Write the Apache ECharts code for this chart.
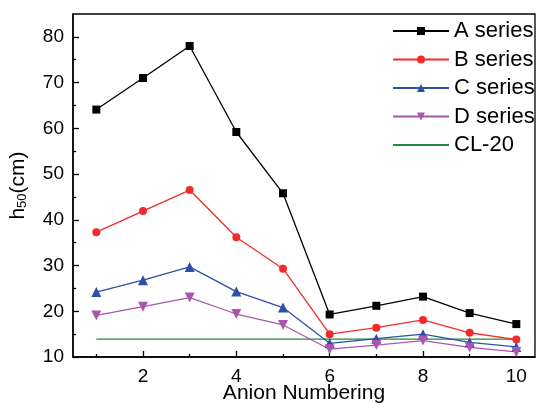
<!DOCTYPE html>
<html>
<head>
<meta charset="utf-8">
<script src="https://cdn.jsdelivr.net/npm/echarts@6/dist/echarts.min.js"></script>
<style>
html,body{margin:0;padding:0;background:#fff;}
#c{width:539px;height:408px;}
</style>
</head>
<body>
<div id="c"></div>
<script>
var anionNumbers = [1, 2, 3, 4, 5, 6, 7, 8, 9, 10];
var seriesA = [64.1, 71.0, 78.0, 59.2, 45.8, 19.3, 21.2, 23.2, 19.6, 17.2];
var seriesB = [37.3, 41.9, 46.5, 36.2, 29.3, 15.0, 16.4, 18.1, 15.3, 13.8];
var seriesC = [24.2, 26.8, 29.7, 24.3, 20.8, 13.0, 14.0, 15.0, 13.2, 12.2];
var seriesD = [19.1, 21.0, 23.0, 19.4, 17.0, 11.7, 12.6, 13.6, 12.1, 11.1];
var cl20 = [13.9, 13.9, 13.9, 13.9, 13.9, 13.9, 13.9, 13.9, 13.9, 13.9];
var xMajorTicks = [2, 4, 6, 8, 10];
var xMinorTicks = [1, 3, 5, 7, 9];
var yMajorTicks = [10, 20, 30, 40, 50, 60, 70, 80];
var yMinorTicks = [15, 25, 35, 45, 55, 65, 75];

function pairs(vals) {
  return anionNumbers.map(function (x, i) { return [x, vals[i]]; });
}

var FONT = '"Liberation Sans", Arial, sans-serif';
var chart = echarts.init(document.getElementById('c'), null, {renderer: 'canvas'});

function lineSeries(name, vals, color, symbol, size) {
  return {
    name: name, type: 'line', data: pairs(vals),
    symbol: symbol, symbolSize: size,
    itemStyle: {color: color},
    lineStyle: {color: color, width: 1.3},
    emphasis: {disabled: true},
    animation: false
  };
}

chart.setOption({
  animation: false,
  grid: {left: 73, right: 4, top: 14, bottom: 51, outerBoundsMode: 'none', containLabel: false,
         show: true, borderColor: '#000', borderWidth: 1.3, backgroundColor: 'transparent'},
  legend: {
    orient: 'vertical', left: 387, top: 15, itemWidth: 56, itemHeight: 10, itemGap: 6.5,
    textStyle: {fontFamily: FONT, fontSize: 22, color: '#000'},
    data: ['A series', 'B series', 'C series', 'D series', {name: 'CL-20', itemStyle: {opacity: 0}}]
  },
  xAxis: [{
    type: 'value', min: 0.5, max: 10.4, position: 'bottom', offset: 0,
    name: 'Anion Numbering', nameLocation: 'middle', nameGap: 26, nameMoveOverlap: false,
    nameTextStyle: {fontFamily: FONT, fontSize: 21, color: '#000'},
    axisLine: {show: true, onZero: false, lineStyle: {color: '#000', width: 1.5}},
    axisTick: {show: true, inside: true, length: 6, customValues: xMajorTicks, lineStyle: {color: '#000', width: 1.3}},
    axisLabel: {customValues: xMajorTicks, fontFamily: FONT, fontSize: 19, color: '#000', margin: 10},
    splitLine: {show: false}
  }, {
    type: 'value', min: 0.5, max: 10.4, position: 'bottom', offset: 0,
    axisLine: {show: false},
    axisTick: {show: true, inside: true, length: 3, customValues: xMinorTicks, lineStyle: {color: '#000', width: 1.3}},
    axisLabel: {show: false},
    splitLine: {show: false}
  }],
  yAxis: [{
    type: 'value', min: 10, max: 85, position: 'left', offset: 0,
    name: '{n|h}{s|50}{n|(cm)}', nameLocation: 'middle', nameGap: 44, nameRotate: 90, nameMoveOverlap: false,
    nameTextStyle: {
      fontFamily: FONT, fontSize: 21, color: '#000',
      rich: {
        n: {fontFamily: FONT, fontSize: 21, color: '#000'},
        s: {fontFamily: FONT, fontSize: 13, color: '#000', verticalAlign: 'bottom', padding: [9, 0, 0, 0]}
      }
    },
    axisLine: {show: true, onZero: false, lineStyle: {color: '#000', width: 1.5}},
    axisTick: {show: true, inside: true, length: 6, customValues: yMajorTicks, lineStyle: {color: '#000', width: 1.3}},
    axisLabel: {customValues: yMajorTicks, fontFamily: FONT, fontSize: 19, color: '#000', margin: 9},
    splitLine: {show: false}
  }, {
    type: 'value', min: 10, max: 85, position: 'left', offset: 0,
    axisLine: {show: false},
    axisTick: {show: true, inside: true, length: 3, customValues: yMinorTicks, lineStyle: {color: '#000', width: 1.3}},
    axisLabel: {show: false},
    splitLine: {show: false}
  }],
  series: [
    lineSeries('A series', seriesA, '#000000', 'rect', 8),
    lineSeries('B series', seriesB, '#f22a2a', 'circle', 8),
    lineSeries('C series', seriesC, '#2d4fa6', 'triangle', 10),
    lineSeries('D series', seriesD, '#a857ad', 'path://M0,0 L10,0 L5,9 Z', 10),
    {
      name: 'CL-20', type: 'line', data: pairs(cl20), symbol: 'none',
      itemStyle: {color: '#1e8c3c'}, lineStyle: {color: '#1e8c3c', width: 1.3},
      emphasis: {disabled: true}, z: 1
    }
  ]
});
</script>
</body>
</html>
